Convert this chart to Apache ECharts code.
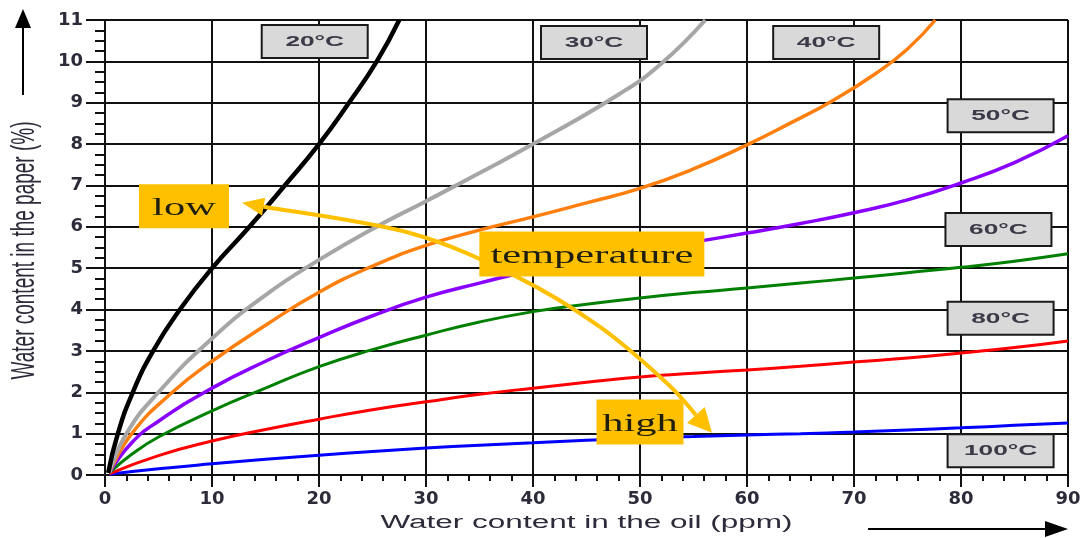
<!DOCTYPE html>
<html lang="en">
<head>
	<meta charset="UTF-8">
	<title>Water content paper / oil</title>
	<script src="https://cdn.jsdelivr.net/npm/echarts@6/dist/echarts.min.js"></script>
</head>
<body style="margin:0;background:#fff;">
    <div id="main" style="width:1090px;height:538px;"></div>
    <script type="text/javascript">
    	// curve names
    	var names = ['20°C', '30°C', '40°C', '50°C', '60°C', '80°C', '100°C'];

    	// values (x = ppm in oil, y = % in paper)
    	var x20 = [0.3, 1.2, 2.6, 4.5, 7.0, 10, 13.5, 16.8, 20.0, 22.8, 25.4, 27.5];
    	var y20 = [0.05, 1, 2, 3, 4, 5, 6, 7, 8, 9, 10, 11];

    	var x30 = [0.4, 2.0, 5.0, 10, 15, 20, 25, 30, 35, 40, 48, 52, 56.1];
    	var y30 = [0.05, 1, 2, 3.3, 4.35, 5.2, 5.95, 6.62, 7.3, 8.0, 9.2, 9.95, 11];

    	var x40 = [0.4, 2.5, 6.3, 10, 15, 20, 25, 30, 35, 40, 45, 50, 55, 60, 64, 68, 72, 75, 77.6];
    	var y40 = [0.05, 1, 2, 2.75, 3.62, 4.42, 5.05, 5.55, 5.92, 6.24, 6.58, 6.93, 7.4, 7.98, 8.5, 9.05, 9.7, 10.3, 11];

    	var xMid = [0.4, 2.5, 5, 10, 15, 20, 25, 30, 35, 40, 45, 50, 55, 60, 65, 70, 75, 80, 85, 90];
    	var y50 = [0.05, 0.78, 1.3, 2.1, 2.75, 3.32, 3.85, 4.3, 4.64, 4.95, 5.2, 5.42, 5.63, 5.85, 6.08, 6.34, 6.65, 7.06, 7.55, 8.2];
    	var y60 = [0.05, 0.5, 0.92, 1.55, 2.1, 2.62, 3.03, 3.38, 3.7, 3.95, 4.13, 4.28, 4.41, 4.52, 4.64, 4.76, 4.89, 5.02, 5.17, 5.35];

    	var xLow = [0.4, 5, 10, 15, 20, 25, 30, 35, 40, 45, 50, 55, 60, 65, 70, 75, 80, 85, 90];
    	var y80 = [0.03, 0.47, 0.82, 1.1, 1.35, 1.58, 1.77, 1.95, 2.1, 2.24, 2.37, 2.46, 2.54, 2.63, 2.73, 2.83, 2.95, 3.08, 3.24];
    	var y100 = [0.02, 0.15, 0.27, 0.38, 0.48, 0.57, 0.65, 0.72, 0.78, 0.84, 0.89, 0.93, 0.97, 1.0, 1.04, 1.09, 1.14, 1.2, 1.26];

    	var xList = [x20, x30, x40, xMid, xMid, xLow, xLow];
    	var yList = [y20, y30, y40, y50, y60, y80, y100];

    	var colors = ['#000000', '#a6a6a6', '#ff7f0e', '#8a00ff', '#008000', '#ff0000', '#0000ff'];
    	var widths = [4.5, 4, 3.5, 3.5, 3, 3, 3];

    	function pairs(xs, ys) {
    		var out = [];
    		for (var i = 0; i < xs.length; i++) out.push([xs[i], ys[i]]);
    		return out;
    	}

    	var series = [];
    	for (var i = 0; i < names.length; i++) {
    		series.push({
    			name: names[i],
    			type: 'line',
    			smooth: 0.5,
    			showSymbol: false,
    			lineStyle: { color: colors[i], width: widths[i] },
    			itemStyle: { color: colors[i] },
    			data: pairs(xList[i], yList[i]),
    			z: 10 - i
    		});
    	}

    	var myChart = echarts.init(document.getElementById('main'));
    	var option = {
    		animation: false,
    		backgroundColor: '#ffffff',
    		grid: { left: 105, right: 22, top: 20, bottom: 63 },
    		xAxis: {
    			type: 'value', min: 0, max: 90, interval: 10,
    			axisLine: { lineStyle: { color: '#111', width: 2 } },
    			axisTick: { length: 12, lineStyle: { color: '#111', width: 2 } },
    			minorTick: { show: true, splitNumber: 5, length: 6, lineStyle: { color: '#111', width: 2 } },
    			splitLine: { show: true, lineStyle: { color: '#111', width: 2 } },
    			axisLabel: { margin: 15, color: '#2b2b3a', fontSize: 18, fontWeight: 'bold', fontFamily: 'DejaVu Sans' }
    		},
    		yAxis: {
    			type: 'value', min: 0, max: 11, interval: 1,
    			axisLine: { lineStyle: { color: '#111', width: 2 } },
    			axisTick: { length: 19, lineStyle: { color: '#111', width: 2 } },
    			minorTick: { show: true, splitNumber: 4, length: 10, lineStyle: { color: '#111', width: 2 } },
    			splitLine: { show: true, lineStyle: { color: '#111', width: 2 } },
    			axisLabel: { margin: 22, color: '#2b2b3a', fontSize: 18, fontWeight: 'bold', fontFamily: 'DejaVu Sans' }
    		},
    		series: series
    	};
    	myChart.setOption(option);

    	// annotations, anchored in data space
    	var boxAt = [[19.6, 10.49], [45.7, 10.47], [67.4, 10.47], [83.7, 8.7], [83.5, 5.95], [83.7, 3.8], [83.7, 0.6]];
    	var notes = [
    		{ text: 'low', at: [7.38, 6.5], w: 90, h: 44 },
    		{ text: 'temperature', at: [45.5, 5.34], w: 225, h: 45 },
    		{ text: 'high', at: [50.0, 1.28], w: 87, h: 45 }
    	];
    	var arrowPath = [[12.8, 6.58], [28.5, 5.85], [38.5, 4.79], [46.26, 3.58], [52.52, 2.22], [56.73, 1.02]];

    	function px(p) { return myChart.convertToPixel({ gridIndex: 0 }, p); }

    	function head(tip, from, len, half) {
    		var dx = tip[0] - from[0], dy = tip[1] - from[1];
    		var d = Math.sqrt(dx * dx + dy * dy); dx /= d; dy /= d;
    		var bx = tip[0] - dx * len, by = tip[1] - dy * len;
    		return [tip, [bx - dy * half, by + dx * half], [bx + dy * half, by - dx * half]];
    	}

    	var g = [];
    	var arrowStyle = { stroke: '#ffc000', lineWidth: 4, fill: null };

    	// catmull-rom through the points, one bezier per segment
    	function smoothCurve(p) {
    		for (var i = 0; i < p.length - 1; i++) {
    			var p0 = p[i - 1] || p[i], p1 = p[i], p2 = p[i + 1], p3 = p[i + 2] || p[i + 1];
    			g.push({ type: 'bezierCurve', z: 50, style: arrowStyle, shape: {
    				x1: p1[0], y1: p1[1], x2: p2[0], y2: p2[1],
    				cpx1: p1[0] + (p2[0] - p0[0]) / 6, cpy1: p1[1] + (p2[1] - p0[1]) / 6,
    				cpx2: p2[0] - (p3[0] - p1[0]) / 6, cpy2: p2[1] - (p3[1] - p1[1]) / 6
    			} });
    		}
    	}

    	var pts = arrowPath.map(px);
    	var n = pts.length;
    	var a0 = head(pts[0], pts[1], 22, 9);
    	var a1 = head(pts[n - 1], pts[n - 2], 24, 12);
    	var linePts = pts.slice();
    	linePts[0] = [(a0[1][0] + a0[2][0]) / 2, (a0[1][1] + a0[2][1]) / 2];
    	linePts[n - 1] = [(a1[1][0] + a1[2][0]) / 2, (a1[1][1] + a1[2][1]) / 2];
    	smoothCurve(linePts);
    	g.push({ type: 'polygon', z: 50, shape: { points: a0 }, style: { fill: '#ffc000' } });
    	g.push({ type: 'polygon', z: 50, shape: { points: a1 }, style: { fill: '#ffc000' } });

    	notes.forEach(function (nt) {
    		var c = px(nt.at);
    		g.push({ type: 'rect', z: 60, shape: { x: c[0] - nt.w / 2, y: c[1] - nt.h / 2, width: nt.w, height: nt.h }, style: { fill: '#ffc000' } });
    		g.push({ type: 'text', z: 61, x: c[0], y: c[1] + 2, scaleX: 1.7,
    			style: { text: nt.text, font: '25px "Liberation Serif", serif', fill: '#1f1f10', align: 'center', verticalAlign: 'middle', textAlign: 'center', textVerticalAlign: 'middle' } });
    	});

    	names.forEach(function (nm, i) {
    		var c = px(boxAt[i]);
    		g.push({ type: 'rect', z: 70, shape: { x: c[0] - 53, y: c[1] - 16, width: 106, height: 33 }, style: { fill: '#d9d9d9', stroke: '#1a1a1a', lineWidth: 2 } });
    		g.push({ type: 'text', z: 71, x: c[0], y: c[1] + 1, scaleX: 1.75,
    			style: { text: nm, font: 'bold 15px "Liberation Sans", sans-serif', fill: '#3a3a48', align: 'center', verticalAlign: 'middle', textAlign: 'center', textVerticalAlign: 'middle' } });
    	});

    	// axis titles
    	var xc = px([45, 0]);
    	g.push({ type: 'text', z: 80, x: xc[0], y: 523, scaleX: 1.75,
    		style: { text: 'Water content in the oil (ppm)', font: '18px "Liberation Sans", sans-serif', fill: '#2b2b3a', align: 'center', verticalAlign: 'middle', textAlign: 'center', textVerticalAlign: 'middle' } });
    	var yc = px([0, 5.5]);
    	g.push({ type: 'text', z: 80, x: 25, y: yc[1] + 3, rotation: Math.PI / 2, scaleY: 1.75,
    		style: { text: 'Water content in the paper (%)', font: '19px "Liberation Sans", sans-serif', fill: '#2b2b3a', align: 'center', verticalAlign: 'middle', textAlign: 'center', textVerticalAlign: 'middle' } });

    	// direction arrows beside the axes
    	g.push({ type: 'line', z: 80, shape: { x1: 23, y1: 95, x2: 23, y2: 24 }, style: { stroke: '#000', lineWidth: 2 } });
    	g.push({ type: 'polygon', z: 80, shape: { points: [[23, 9], [15, 28], [31, 28]] }, style: { fill: '#000' } });
    	g.push({ type: 'line', z: 80, shape: { x1: 868, y1: 529, x2: 1050, y2: 529 }, style: { stroke: '#000', lineWidth: 2 } });
    	g.push({ type: 'polygon', z: 80, shape: { points: [[1068, 529], [1045, 521], [1045, 537]] }, style: { fill: '#000' } });

    	myChart.setOption({ graphic: g });
    </script>
</body>
</html>
